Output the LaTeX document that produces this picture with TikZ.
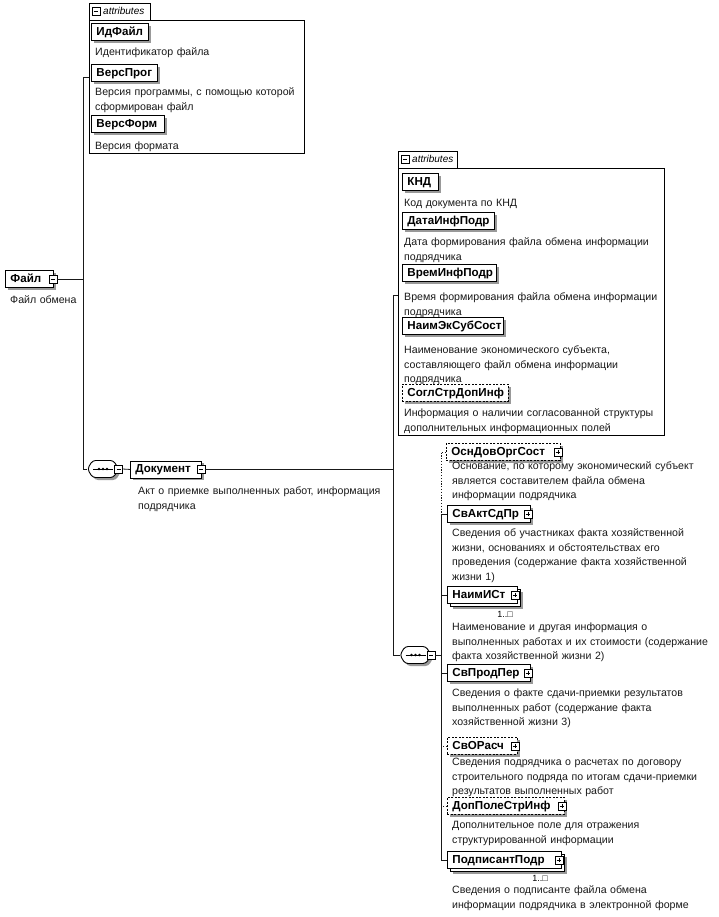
\documentclass[tikz,border=0pt]{standalone}
\usepackage{fontspec}
\setmainfont{Liberation Sans}
\usetikzlibrary{shadows}
\newcommand{\elfont}{\fontsize{11.6}{13}\selectfont\bfseries}
\newcommand{\dsfont}{\fontsize{10.6}{14.7}\selectfont}
\newcommand{\tbfont}{\fontsize{10}{11}\selectfont\itshape}
\newcommand{\mlfont}{\fontsize{9}{10}\selectfont}
\begin{document}
\begin{tikzpicture}[x=1pt,y=-1pt,
  conn/.style={draw=black!90, line width=0.8pt},
  optconn/.style={conn, dash pattern=on 1.2pt off 1.6pt},
  elembase/.style={draw=black, fill=white, line width=0.9pt, font=\elfont, anchor=north west,
    inner xsep=5pt, inner ysep=0pt, minimum height=17pt, text height=9pt, text depth=2.5pt, align=left},
  elem/.style={elembase, drop shadow={shadow xshift=2.5pt, shadow yshift=-2.5pt, fill=black!40, opacity=1}},
  multielem/.style={elembase, drop shadow={shadow xshift=5.5pt, shadow yshift=-5.5pt, fill=black!40, opacity=1},
    copy shadow={shadow xshift=3pt, shadow yshift=-3pt, draw=black, fill=white, line width=0.9pt}},
  opt/.style={dash pattern=on 2pt off 1.5pt},
  ew/.style={text width=#1pt-10pt},
  desc/.style={anchor=base west, align=left, inner sep=0pt, font=\dsfont, text=black!90, text width=300pt},
  attrbox/.style={draw=black, fill=white, line width=0.8pt, anchor=north west, inner sep=0pt},
  tabbox/.style={fill=white, anchor=south west, font=\tbfont, inner xsep=2pt, inner ysep=0pt,
    minimum height=16.5pt, text height=7pt, text depth=2pt, align=left},
  pmbase/.style={draw=black, fill=white, line width=0.6pt, minimum size=8pt, inner sep=0pt, outer sep=0pt},
  minusbox/.style={pmbase, path picture={\draw[line width=0.7pt]
    ([xshift=1.8pt]path picture bounding box.west) -- ([xshift=-1.8pt]path picture bounding box.east);}},
  plusbox/.style={pmbase, path picture={\draw[line width=0.7pt]
    ([xshift=1.8pt]path picture bounding box.west) -- ([xshift=-1.8pt]path picture bounding box.east)
    ([yshift=-1.8pt]path picture bounding box.north) -- ([yshift=1.8pt]path picture bounding box.south);}},
  mult/.style={font=\mlfont, inner sep=0pt},
  seqsym/.pic={
    \fill[black!40, rounded corners=3pt] (-13,2.5) -- (-8,-6) -- (13,-6) -- (18,2.5) -- (13,11) -- (-8,11) -- cycle;
    \draw[line width=0.9pt, fill=white, rounded corners=3pt] (-15.5,0) -- (-10.5,-8.5) -- (10.5,-8.5) -- (15.5,0) -- (10.5,8.5) -- (-10.5,8.5) -- cycle;
    \draw[line width=0.8pt] (-10,0) -- (10,0);
    \fill (-4,0) circle (1.4pt) (0,0) circle (1.4pt) (4,0) circle (1.4pt);
    \node[minimum width=31pt, minimum height=17pt, inner sep=0pt] (-n) at (0,0) {};
  }
]
\useasboundingbox (0,0) rectangle (719,917);

% ---------- attributes of Файл ----------
\node[attrbox, minimum width=215pt, minimum height=133pt] (attr1) at (89,20) {};
\node[tabbox, text width=57pt] (tab1) at (attr1.north west) {\hspace*{12pt}attributes};
\draw[line width=0.8pt] (tab1.south west) -- (tab1.north west) -- (tab1.north east) -- (tab1.south east);
\node[minusbox] (tab1m) at ([xshift=7pt]tab1.west) {};

\node[elem, ew=57] (idf) at (91,23) {ИдФайл};
\node[desc] (idfd) at (95,55.5) {Идентификатор файла};
\node[elem, ew=66] (vprog) at (91,64) {ВерсПрог};
\node[desc] (vprogd) at (95,95.5) {Версия программы, с помощью которой\\сформирован файл};
\node[elem, ew=73] (vform) at (91,115) {ВерсФорм};
\node[desc] (vformd) at (95,149.5) {Версия формата};

% ---------- Файл ----------
\node[elem, ew=48] (file) at (5,270) {Файл};
\node[minusbox] (filem) at ([xshift=-1pt]file.east) {};
\node[desc] (filed) at (10,303.5) {Файл обмена};

% ---------- Документ ----------
\pic (seq1) at (103,469) {seqsym};
\node[minusbox] (seq1m) at (seq1-n.east) {};
\node[elem, ew=71] (dok) at (130,460.5) {Документ};
\node[minusbox] (dokm) at ([xshift=-1pt]dok.east) {};
\node[desc] (dokd) at (138,494.5) {Акт о приемке выполненных работ, информация\\подрядчика};

% ---------- attributes of Документ ----------
\node[attrbox, minimum width=266pt, minimum height=267pt] (attr2) at (398,168) {};
\node[tabbox, text width=55pt] (tab2) at (attr2.north west) {\hspace*{12pt}attributes};
\draw[line width=0.8pt] (tab2.south west) -- (tab2.north west) -- (tab2.north east) -- (tab2.south east);
\node[minusbox] (tab2m) at ([xshift=7pt]tab2.west) {};

\node[elem, ew=36] (knd) at (402,173) {КНД};
\node[desc] (kndd) at (404,206.5) {Код документа по КНД};
\node[elem, ew=92] (data) at (402,212) {ДатаИнфПодр};
\node[desc] (datad) at (404,245.5) {Дата формирования файла обмена информации\\подрядчика};
\node[elem, ew=94] (vrem) at (402,264) {ВремИнфПодр};
\node[desc] (vremd) at (404,300.5) {Время формирования файла обмена информации\\подрядчика};
\node[elem, ew=101] (naimek) at (402,317) {НаимЭкСубСост};
\node[desc] (naimekd) at (404,353.5) {Наименование экономического субъекта,\\составляющего файл обмена информации\\подрядчика};
\node[elem, opt, ew=106] (sogl) at (402,384) {СоглСтрДопИнф};
\node[desc] (sogld) at (404,416.5) {Информация о наличии согласованной структуры\\дополнительных информационных полей};

% ---------- sequence of Документ ----------
\pic (seq2) at (415.5,655) {seqsym};
\node[minusbox] (seq2m) at (seq2-n.east) {};

\node[elem, opt, ew=114] (osn) at (446,443) {ОснДовОргСост};
\node[plusbox] (osnp) at ([xshift=-3pt]osn.east) {};
\node[desc] (osnd) at (452,469.5) {Основание, по которому экономический субъект\\является составителем файла обмена\\информации подрядчика};

\node[elem, ew=83] (svakt) at (447,505) {СвАктСдПр};
\node[plusbox] (svaktp) at ([xshift=-3pt]svakt.east) {};
\node[desc] (svaktd) at (452,536.5) {Сведения об участниках факта хозяйственной\\жизни, основаниях и обстоятельствах его\\проведения (содержание факта хозяйственной\\жизни 1)};

\node[multielem, ew=70] (naim) at (447,586) {НаимИСт};
\node[plusbox] (naimp) at ([xshift=-3pt]naim.east) {};
\node[mult] (naimk) at (505,614) {1..□};
\node[desc] (naimd) at (452,630.5) {Наименование и другая информация о\\выполненных работах и их стоимости (содержание\\факта хозяйственной жизни 2)};

\node[elem, ew=83] (svprod) at (447,664) {СвПродПер};
\node[plusbox] (svprodp) at ([xshift=-3pt]svprod.east) {};
\node[desc] (svprodd) at (452,696.5) {Сведения о факте сдачи-приемки результатов\\выполненных работ (содержание факта\\хозяйственной жизни 3)};

\node[elem, opt, ew=70] (svor) at (447,737) {СвОРасч};
\node[plusbox] (svorp) at ([xshift=-3pt]svor.east) {};
\node[desc] (svord) at (452,765.5) {Сведения подрядчика о расчетах по договору\\строительного подряда по итогам сдачи-приемки\\результатов выполненных работ};

\node[elem, opt, ew=117] (dop) at (447,797) {ДопПолеСтрИнф};
\node[plusbox] (dopp) at ([xshift=-3pt]dop.east) {};
\node[desc] (dopd) at (452,828.5) {Дополнительное поле для отражения\\структурированной информации};

\node[multielem, ew=114] (podp) at (447,851) {ПодписантПодр};
\node[plusbox] (podpp) at ([xshift=-3pt]podp.east) {};
\node[mult] (podpk) at (540,878) {1..□};
\node[desc] (podpd) at (452,893.5) {Сведения о подписанте файла обмена\\информации подрядчика в электронной форме};

% ---------- connectors ----------
\coordinate (vtop) at (83,77);
\coordinate (rtop) at (393,295);
\coordinate (bx) at (441,452);
\draw[conn] (filem.east) -- (filem.east -| vtop);
\draw[conn] (attr1.west |- vtop) -- (vtop) |- (seq1-n.west);
\draw[conn] (seq1m.east) -- (dok.west);
\draw[conn] (dokm.east) -- (dokm.east -| rtop);
\draw[conn] (attr2.west |- rtop) -- (rtop) |- (seq2-n.west);
\draw[conn] (seq2m.east) -- (seq2m.east -| bx);
\draw[optconn] (osn.west) -- (osn.west -| bx) -- (svakt.west -| bx);
\draw[conn] (svakt.west) -- (svakt.west -| bx) -- (podp.west -| bx) -- (podp.west);
\draw[conn] (naim.west) -- (naim.west -| bx);
\draw[conn] (svprod.west) -- (svprod.west -| bx);
\draw[optconn] (svor.west) -- (svor.west -| bx);
\draw[optconn] (dop.west) -- (dop.west -| bx);
\end{tikzpicture}
\end{document}
